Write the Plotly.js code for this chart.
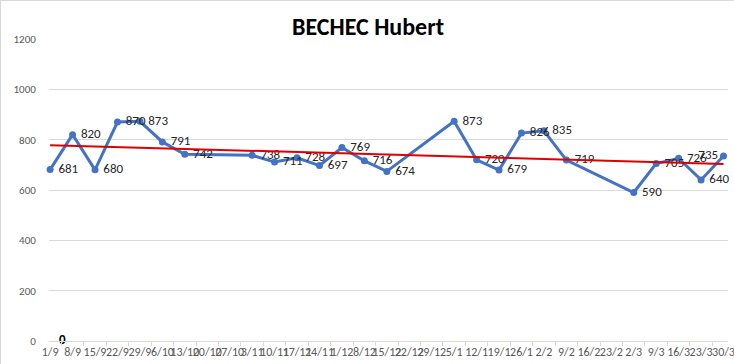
<!DOCTYPE html>
<html><head><meta charset="utf-8">
<script src="https://cdn.plot.ly/plotly-3.0.1.min.js"></script>
<style>html,body{margin:0;padding:0;background:#fff}#c{width:732px;height:362px;border:1px solid #d9d9d9}</style>
</head><body><div id="c"></div>
<script>
const dates = ["1/9","8/9","15/9","22/9","29/9","6/10","13/10","20/10","27/10","3/11","10/11","17/11","24/11","1/12","8/12","15/12","22/12","29/12","5/1","12/1","19/1","26/1","2/2","9/2","16/2","23/2","2/3","9/3","16/3","23/3","30/3"];
const scores = [681,820,680,870,873,791,742,null,null,738,711,728,697,769,716,674,null,null,873,720,679,826,835,719,null,null,590,705,726,640,735];
const zeroLabel = [0];

// linear trendline (least squares over category index)
let n=0,sx=0,sy=0,sxx=0,sxy=0;
scores.forEach((v,i)=>{ if(v!==null){n++;sx+=i;sy+=v;sxx+=i*i;sxy+=i*v;} });
const slope=(n*sxy-sx*sy)/(n*sxx-sx*sx), icpt=(sy-slope*sx)/n;
const trend = dates.map((d,i)=>icpt+slope*i);

const f = "Carlito, Lato, 'Liberation Sans', sans-serif";
const last = scores.length-1;
const data = [
  {x:dates,y:scores,type:'scatter',mode:'lines+markers+text',connectgaps:true,
   line:{color:'#4472C4',width:3},marker:{color:'#4472C4',size:7},
   text:scores.map((v,i)=>v===null?'':(i===last?String(v):'\u00a0'+v)),
   textposition:scores.map((v,i)=>i===last?'middle left':'middle right'),
   textfont:{family:f,size:13,color:'#262626'},cliponaxis:false,hoverinfo:'x+y'},
  {x:dates,y:trend,type:'scatter',mode:'lines',line:{color:'#E00000',width:2},hoverinfo:'skip'},
  {x:[dates[0]],y:zeroLabel,type:'scatter',mode:'text',text:zeroLabel.map(v=>'\u00a0\u00a0\u00a0'+v),
   textposition:'middle right',textfont:{family:f,size:13,color:'#000',weight:'bold'},cliponaxis:false,hoverinfo:'skip'}
];
const layout = {
  width:734,height:364,margin:{l:48,r:7,t:38,b:24},showlegend:false,
  paper_bgcolor:'#fff',plot_bgcolor:'#fff',
  title:{text:'<b>BECHEC Hubert</b>',font:{family:f,size:24,color:'#000'},x:0.5,xanchor:'center',y:0.93,yanchor:'middle'},
  xaxis:{type:'category',range:[-0.05,30.2],tickangle:0,tickmode:'array',tickvals:dates,ticktext:dates,
    tickfont:{family:f,size:12,color:'#595959'},showgrid:false,showline:true,linecolor:'#d9d9d9',linewidth:1,
    ticks:'outside',ticklen:4,tickcolor:'#d9d9d9',tickson:'boundaries',zeroline:false,automargin:false},
  yaxis:{range:[0,1200],dtick:200,tickfont:{family:f,size:11,color:'#595959'},gridcolor:'#d9d9d9',gridwidth:1,
    showline:false,zeroline:false,ticks:'outside',ticklen:10,tickcolor:'rgba(0,0,0,0)',automargin:false}
};
Plotly.newPlot('c',data,layout,{displayModeBar:false,staticPlot:true});
</script></body></html>
